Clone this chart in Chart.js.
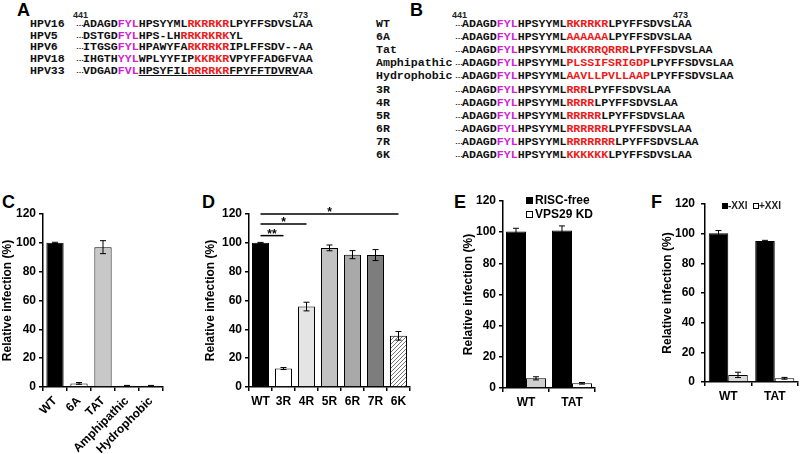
<!DOCTYPE html>
<html>
<head>
<meta charset="utf-8">
<script src="https://cdn.jsdelivr.net/npm/chart.js@4.4.0/dist/chart.umd.min.js"></script>
<style>
  html, body { margin: 0; padding: 0; background: #fff; }
  #fig { position: relative; width: 800px; height: 454px; overflow: hidden; font-family: 'Liberation Sans', Arial, sans-serif; }
  .panel { position: absolute; font-weight: bold; font-size: 18px; line-height: 18px; color: #000; }
  .row { position: absolute; font-family: 'Liberation Mono', 'Courier New', monospace; font-weight: bold; font-size: 11.6px; line-height: 12px; white-space: pre; color: #111; }
  .dots { position: absolute; font-size: 8px; line-height: 12px; font-weight: bold; color: #111; }
  .pos { position: absolute; font-size: 9px; line-height: 10px; font-weight: bold; color: #222; }
  .mag { color: #d321d3; }
  .red { color: #ee1a1a; }
  .ul { text-decoration: underline; }
  canvas { position: absolute; }
  .leg { position: absolute; font-weight: bold; color: #000; white-space: nowrap; }
  .sq { display: inline-block; border: 1px solid #000; box-sizing: border-box; vertical-align: middle; }
</style>
</head>
<body>
<div id="fig">
  <div class="panel" style="left:17px;top:1px">A</div>
  <div class="panel" style="left:410px;top:1px">B</div>
  <div class="panel" style="left:2px;top:193px">C</div>
  <div class="panel" style="left:202px;top:193px">D</div>
  <div class="panel" style="left:454px;top:193px">E</div>
  <div class="panel" style="left:651px;top:193px">F</div>

  <div class="pos" style="left:73px;top:10px">441</div>
  <div class="pos" style="left:293px;top:10px">473</div>
  <div class="pos" style="left:452px;top:10px">441</div>
  <div class="pos" style="left:673px;top:10px">473</div>

  <canvas id="chartC" width="170" height="274" style="left:0px;top:180px"></canvas>
  <canvas id="chartD" width="215" height="274" style="left:203px;top:180px"></canvas>
  <canvas id="chartE" width="142" height="274" style="left:461px;top:180px"></canvas>
  <canvas id="chartF" width="140" height="274" style="left:660px;top:180px"></canvas>

  <div class="leg" style="left:526px;top:193px;font-size:12px;line-height:14px">
    <span class="sq" style="width:7px;height:7px;background:#000;margin-right:2px"></span>RISC-free<br>
    <span class="sq" style="width:7px;height:7px;background:#fff;margin-right:2px"></span>VPS29 KD
  </div>
  <div class="leg" style="left:722px;top:199px;font-size:10px;line-height:13px;color:#222">
    <span class="sq" style="width:6px;height:6px;background:#000"></span>-XXI&nbsp;&nbsp;<span class="sq" style="width:6px;height:6px;background:#fff"></span>+XXI
  </div>
</div>

<script>
// sequence alignments: [label, before, motif, middle, basic, after]
const seqRowsA = [
  ['HPV16', 'ADAGD', 'FYL', 'HPSYYML', 'RKRRKR', 'LPYFFSDVSLAA'],
  ['HPV5', 'DSTGD', 'FYL', 'HPS-LH', 'RRKRKRK', 'YL'],
  ['HPV6', 'ITGSG', 'FYL', 'HPAWYFA', 'RKRRKR', 'IPLFFSDV--AA'],
  ['HPV18', 'IHGTH', 'YYL', 'WPLYYFIP', 'KKRKR', 'VPYFFADGFVAA'],
  ['HPV33', 'VDGAD', 'FVL', 'HPSYFIL', 'RRRRKR', 'FPYFFTDVRVAA']
]
const seqRowsB = [
  ['WT', 'RKRRKR'],
  ['6A', 'AAAAAA'],
  ['Tat', 'RKKRRQRRR'],
  ['Amphipathic', 'PLSSIFSRIGDP'],
  ['Hydrophobic', 'AAVLLPVLLAAP'],
  ['3R', 'RRR'],
  ['4R', 'RRRR'],
  ['5R', 'RRRRR'],
  ['6R', 'RRRRRR'],
  ['7R', 'RRRRRRR'],
  ['6K', 'KKKKKK']
]

// panel C
const cLabels = ['WT', '6A', 'TAT', 'Amphipathic', 'Hydrophobic']
const cValues = [100, 2.5, 97, 0.8, 0.8]
const cErrors = [0.4, 0.6, 4.5, 0.3, 0.3]

// panel D
const dLabels = ['WT', '3R', '4R', '5R', '6R', '7R', '6K']
const dValues = [100, 12.8, 55.8, 96.5, 91.8, 91.5, 35.5]
const dErrors = [0.3, 0.7, 3, 2, 2.8, 3.8, 3]
// [from, to, height, mark]
const dSig = [[0, 1, 105, '**'], [0, 2, 113, '*'], [0, 6, 120, '*']]

// panel E
const eLabels = ['WT', 'TAT']
const eRisc = [100.5, 101]
const eRiscErr = [2, 3]
const eVps = [6.2, 3]
const eVpsErr = [1, 0.5]

// panel F
const fLabels = ['WT', 'TAT']
const fMinus = [100.3, 95]
const fMinusErr = [1.8, 0.5]
const fPlus = [4.8, 2.5]
const fPlusErr = [1.8, 0.6]

const yTicks = [0, 20, 40, 60, 80, 100, 120]

// sequence text
const fig = document.getElementById('fig')
function addRow(label, labelX, seqX, y, html) {
  const lab = document.createElement('div')
  lab.className = 'row'
  lab.style.left = labelX + 'px'
  lab.style.top = (y - 6) + 'px'
  lab.textContent = label
  fig.appendChild(lab)
  const dots = document.createElement('div')
  dots.className = 'dots'
  dots.style.left = (seqX - 7) + 'px'
  dots.style.top = (y - 6) + 'px'
  dots.textContent = '…'
  fig.appendChild(dots)
  const seq = document.createElement('div')
  seq.className = 'row'
  seq.style.left = seqX + 'px'
  seq.style.top = (y - 6) + 'px'
  seq.innerHTML = html
  fig.appendChild(seq)
}

seqRowsA.forEach((r, i) => {
  let html
  if (r[0] === 'HPV33') {
    html = r[1] + '<span class="mag">' + r[2] + '</span><span class="ul">' + r[3] +
      '<span class="red">' + r[4] + '</span>' + r[5].slice(0, -2) + '</span>' + r[5].slice(-2)
  } else {
    html = r[1] + '<span class="mag">' + r[2] + '</span>' + r[3] + '<span class="red">' + r[4] + '</span>' + r[5]
  }
  addRow(r[0], 30, 83, 23.8 + i * 11.8, html)
})
seqRowsB.forEach((r, i) => {
  const html = 'ADAGD<span class="mag">FYL</span>HPSYYML<span class="red">' + r[1] + '</span>LPYFFSDVSLAA'
  addRow(r[0], 376, 462, 24 + i * 13.1, html)
})

// charts
Chart.defaults.font.family = "'Liberation Sans', Arial, sans-serif"
Chart.defaults.font.weight = 'bold'
Chart.defaults.font.size = 12
Chart.defaults.color = '#000'
Chart.defaults.animation = false

const errorBarPlugin = {
  id: 'errorBars',
  afterDatasetsDraw(chart) {
    const ctx = chart.ctx
    const yScale = chart.scales.y
    chart.data.datasets.forEach((ds, i) => {
      if (!ds.errors) return
      chart.getDatasetMeta(i).data.forEach((bar, j) => {
        const v = ds.data[j]
        const e = ds.errors[j]
        if (v == null || !e) return
        const top = yScale.getPixelForValue(v + e)
        const bot = yScale.getPixelForValue(Math.max(v - e, 0))
        ctx.save()
        ctx.strokeStyle = '#000'
        ctx.lineWidth = 1
        ctx.beginPath()
        ctx.moveTo(bar.x, top); ctx.lineTo(bar.x, bot)
        ctx.moveTo(bar.x - 3, top); ctx.lineTo(bar.x + 3, top)
        ctx.moveTo(bar.x - 3, bot); ctx.lineTo(bar.x + 3, bot)
        ctx.stroke()
        ctx.restore()
      })
    })
  }
}

const sigPlugin = {
  id: 'sigBars',
  afterDatasetsDraw(chart, args, opts) {
    if (!opts.items) return
    const ctx = chart.ctx
    const xs = chart.scales.x
    const ys = chart.scales.y
    opts.items.forEach(([a, b, v, mark]) => {
      const x0 = xs.getPixelForValue(a)
      const x1 = xs.getPixelForValue(b)
      const y = ys.getPixelForValue(v)
      ctx.save()
      ctx.strokeStyle = '#000'
      ctx.lineWidth = 1.5
      ctx.beginPath()
      ctx.moveTo(x0, y); ctx.lineTo(x1, y)
      ctx.stroke()
      ctx.fillStyle = '#000'
      ctx.font = "bold 12px 'Liberation Sans', Arial, sans-serif"
      ctx.textAlign = 'center'
      ctx.textBaseline = 'alphabetic'
      ctx.fillText(mark, (x0 + x1) / 2, y + 2)
      ctx.restore()
    })
  }
}

function hatch() {
  const c = document.createElement('canvas')
  c.width = 4
  c.height = 4
  const g = c.getContext('2d')
  g.fillStyle = '#fff'
  g.fillRect(0, 0, 4, 4)
  g.strokeStyle = '#777'
  g.lineWidth = 1
  g.beginPath()
  g.moveTo(0, 4); g.lineTo(4, 0)
  g.moveTo(-1, 1); g.lineTo(1, -1)
  g.moveTo(3, 5); g.lineTo(5, 3)
  g.stroke()
  return g.createPattern(c, 'repeat')
}

function yAxis(width, pad) {
  return {
    min: 0,
    max: 120,
    afterBuildTicks: s => { s.ticks = yTicks.map(v => ({ value: v })) },
    ticks: { padding: pad, color: '#000', font: { size: 12, weight: 'bold' } },
    grid: { drawOnChartArea: false, drawTicks: true, tickLength: 4, color: '#000', lineWidth: 1.5 },
    border: { display: true, color: '#000', width: 1.5 },
    title: { display: true, text: 'Relative infection (%)', color: '#000', font: { size: 12, weight: 'bold' }, padding: { top: 0, bottom: 0 } },
    afterFit: s => { s.width = width }
  }
}

function xAxis(height, rotation) {
  return {
    grid: { offset: true, drawOnChartArea: false, tickLength: 4, color: '#000', lineWidth: 1.5 },
    border: { display: true, color: '#000', width: 1.5 },
    ticks: { padding: 3, color: '#000', autoSkip: false, minRotation: rotation, maxRotation: rotation, font: { size: 12, weight: 'bold' } },
    afterFit: s => { s.height = height }
  }
}

function makeChart(id, labels, datasets, pad, yw, ypad, xh, rot, extra) {
  return new Chart(document.getElementById(id), {
    type: 'bar',
    data: { labels, datasets },
    options: {
      responsive: false,
      layout: { padding: pad },
      scales: { x: xAxis(xh, rot), y: yAxis(yw, ypad) },
      plugins: Object.assign({ legend: { display: false }, tooltip: { enabled: false } }, extra || {})
    },
    plugins: [errorBarPlugin, sigPlugin]
  })
}

makeChart('chartC', cLabels, [{
  data: cValues,
  errors: cErrors,
  backgroundColor: ['#000', '#fff', '#c8c8c8', '#fff', '#fff'],
  borderColor: '#000',
  borderWidth: 1,
  categoryPercentage: 0.72,
  barPercentage: 1
}], { left: 0, top: 34, right: 7, bottom: 0 }, 43, 3, 67, 45)

makeChart('chartD', dLabels, [{
  data: dValues,
  errors: dErrors,
  backgroundColor: ['#000', '#fff', '#e4e4e4', '#c2c2c2', '#a9a9a9', '#7d7d7d', hatch()],
  borderColor: '#000',
  borderWidth: 1,
  categoryPercentage: 0.74,
  barPercentage: 1
}], { left: 0, top: 34, right: 8, bottom: 0 }, 46, 3, 67, 0, { sigBars: { items: dSig } })

makeChart('chartE', eLabels, [{
  label: 'RISC-free',
  data: eRisc,
  errors: eRiscErr,
  backgroundColor: '#000',
  borderColor: '#000',
  borderWidth: 1,
  categoryPercentage: 0.87,
  barPercentage: 1
}, {
  label: 'VPS29 KD',
  data: eVps,
  errors: eVpsErr,
  backgroundColor: ['#cfcfcf', '#fff'],
  borderColor: '#000',
  borderWidth: 1,
  categoryPercentage: 0.87,
  barPercentage: 1
}], { left: 0, top: 21, right: 8, bottom: 0 }, 42, 3, 66, 0)

makeChart('chartF', fLabels, [{
  label: '-XXI',
  data: fMinus,
  errors: fMinusErr,
  backgroundColor: '#000',
  borderColor: '#000',
  borderWidth: 1,
  categoryPercentage: 0.84,
  barPercentage: 1
}, {
  label: '+XXI',
  data: fPlus,
  errors: fPlusErr,
  backgroundColor: ['#d8d8d8', '#fff'],
  borderColor: '#000',
  borderWidth: 1,
  categoryPercentage: 0.84,
  barPercentage: 1
}], { left: 0, top: 24, right: 2, bottom: 0 }, 45, 6, 72, 0)
</script>
</body>
</html>
